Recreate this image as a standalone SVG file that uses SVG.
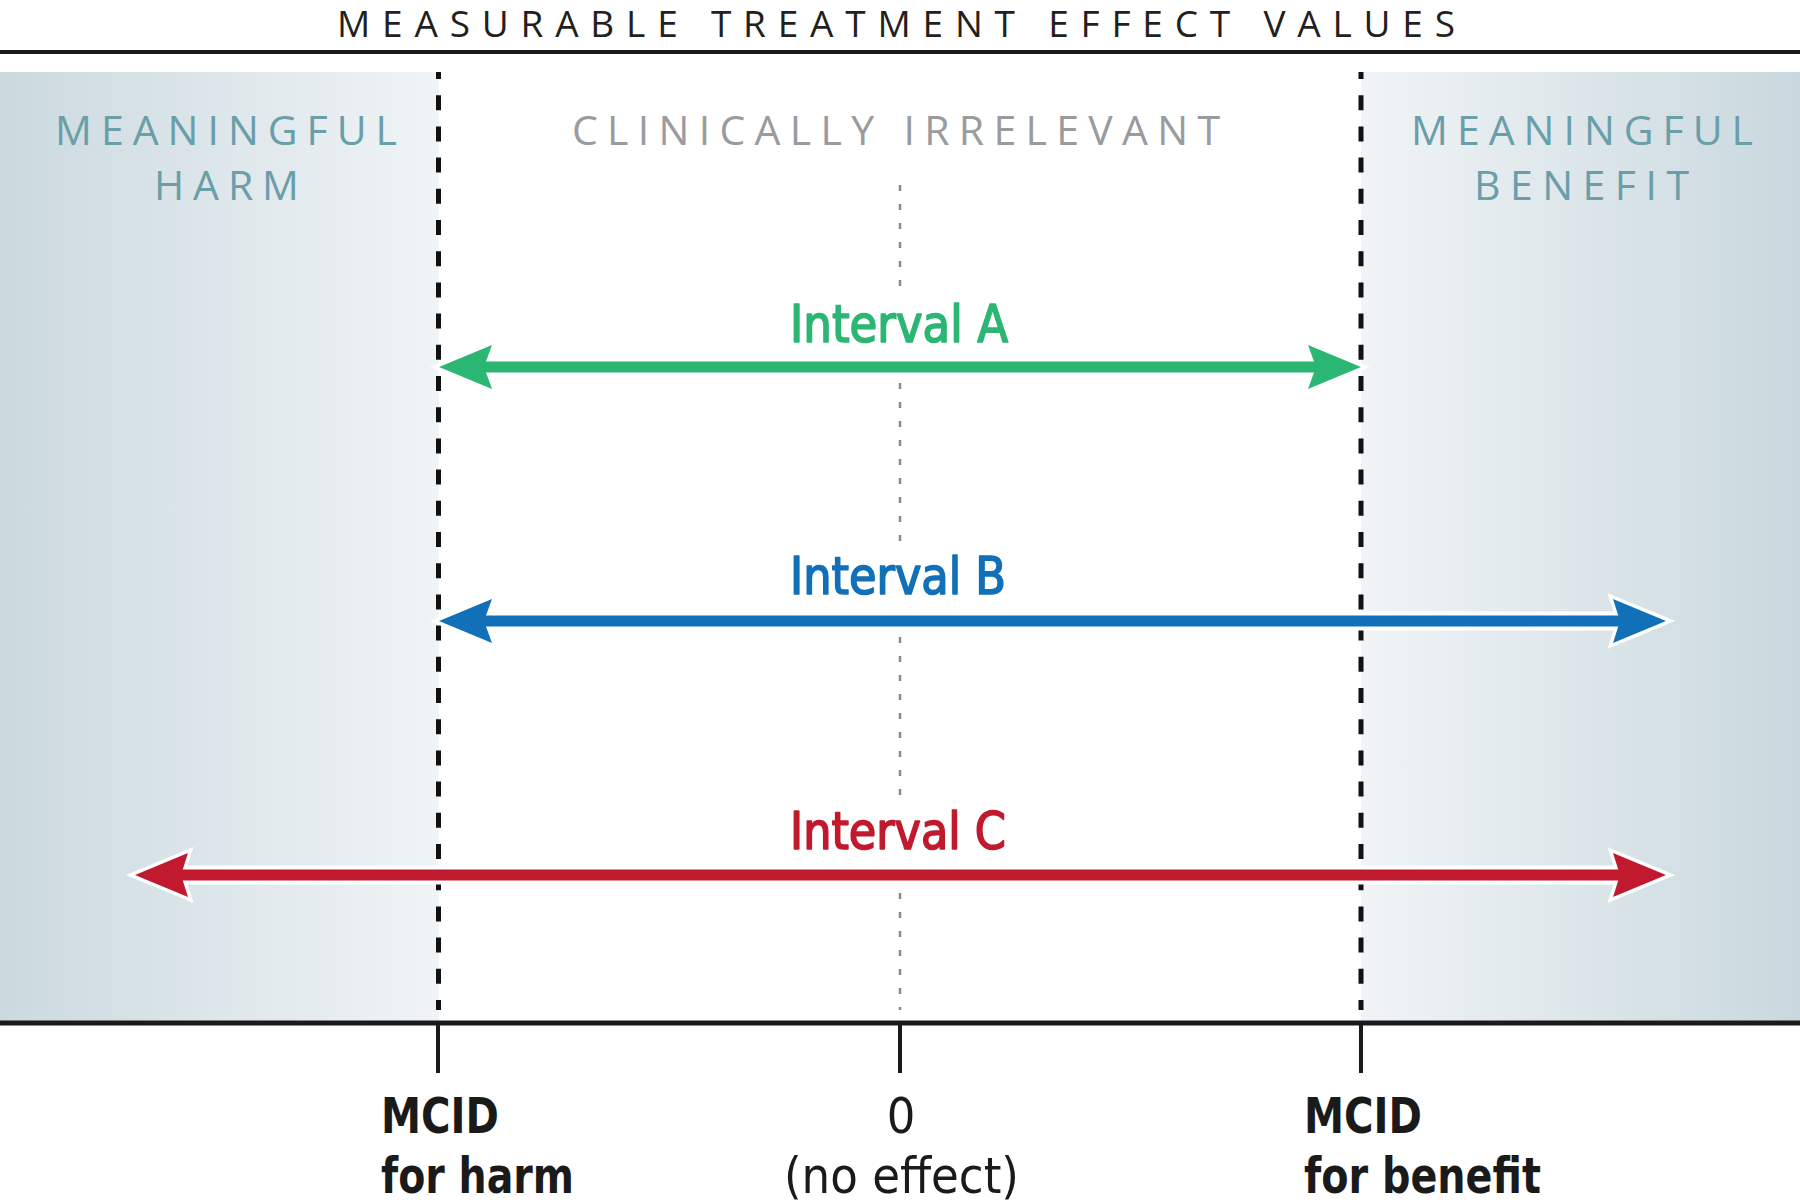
<svg xmlns="http://www.w3.org/2000/svg" width="1800" height="1202" viewBox="0 0 1800 1202">
  <defs>
    <linearGradient id="gHarm" x1="0" y1="0" x2="1" y2="0">
      <stop offset="0" stop-color="#cbd9df"/>
      <stop offset="1" stop-color="#f0f4f6"/>
    </linearGradient>
    <linearGradient id="gBen" x1="0" y1="0" x2="1" y2="0">
      <stop offset="0" stop-color="#f0f4f6"/>
      <stop offset="1" stop-color="#c9d8de"/>
    </linearGradient>
    <style>
      .title { font-family: "Open Sans", "Noto Sans", "Liberation Sans", sans-serif; font-size: 37px; fill: #231f20; }
      .zone { font-family: "Open Sans", "Noto Sans", "Liberation Sans", sans-serif; font-size: 41px; }
      .teal { fill: #6a9ea8; }
      .grey { fill: #9a9b9d; }
      .lab { font-family: "Liberation Sans Narrow", "DejaVu Sans Condensed", "Open Sans", "Liberation Sans", sans-serif; font-size: 51px; font-weight: 400; stroke-width: 1.6; stroke-linejoin: round; }
      .ax { font-family: "Liberation Sans Narrow", "DejaVu Sans Condensed", "Open Sans", "Liberation Sans", sans-serif; font-size: 50px; fill: #1a1a1a; }
      .b { font-weight: 600; }
      .mcid { stroke: #111; stroke-width: 5; stroke-dasharray: 15 16.2; stroke-dashoffset: 8; fill: none; }
      .zero { stroke: #8a8a8a; stroke-width: 2.5; stroke-dasharray: 6 13; fill: none; }
      .haloLine { stroke: #ffffff; stroke-width: 19; }
      .haloHead { stroke: #ffffff; stroke-width: 7; stroke-linejoin: miter; fill: #ffffff; }
      .tick { stroke: #1a1a1a; stroke-width: 4; }
      .green { stroke: #2cb673; fill: #2cb673; }
      .blue { stroke: #1170b8; fill: #1170b8; }
      .red { stroke: #c1192d; fill: #c1192d; }
      .shaft { stroke-width: 11; }
      .head { stroke: none; }
    </style>
  </defs>

  <rect width="1800" height="1202" fill="#ffffff"/>

  <g id="title">
    <text class="title" x="337" y="37" textLength="1118" lengthAdjust="spacing">MEASURABLE TREATMENT EFFECT VALUES</text>
    <rect x="0" y="50" width="1800" height="4" fill="#1a1a1a"/>
  </g>

  <g id="zone-harm">
    <rect x="0" y="72" width="439" height="951" fill="url(#gHarm)"/>
    <text class="zone teal" x="55" y="145" textLength="342" lengthAdjust="spacing">MEANINGFUL</text>
    <text class="zone teal" x="154" y="200" textLength="145" lengthAdjust="spacing">HARM</text>
  </g>

  <g id="zone-irrelevant">
    <text class="zone grey" x="572" y="145" textLength="648" lengthAdjust="spacing">CLINICALLY IRRELEVANT</text>
  </g>

  <g id="zone-benefit">
    <rect x="1361" y="72" width="439" height="951" fill="url(#gBen)"/>
    <text class="zone teal" x="1411" y="145" textLength="342" lengthAdjust="spacing">MEANINGFUL</text>
    <text class="zone teal" x="1474" y="200" textLength="215" lengthAdjust="spacing">BENEFIT</text>
  </g>

  <g id="reference-lines">
    <line class="mcid" x1="438.5" y1="72" x2="438.5" y2="1010"/>
    <line class="mcid" x1="1361" y1="72" x2="1361" y2="1010"/>
    <line class="zero" x1="900" y1="185" x2="900" y2="291"/>
    <line class="zero" x1="900" y1="383" x2="900" y2="546"/>
    <line class="zero" x1="900" y1="637" x2="900" y2="799"/>
    <line class="zero" x1="900" y1="893" x2="900" y2="1010"/>
  </g>

  <g id="axis">
    <rect x="0" y="1020.5" width="1800" height="5" fill="#1a1a1a"/>
    <line class="tick" x1="438" y1="1023" x2="438" y2="1073"/>
    <line class="tick" x1="900" y1="1023" x2="900" y2="1073"/>
    <line class="tick" x1="1361" y1="1023" x2="1361" y2="1073"/>
  </g>

  <g id="connectors">
    <g id="arrow-a">
      <line class="haloLine" x1="470" y1="367" x2="1330" y2="367"/>
      <polygon class="haloHead" points="439,367 492,345 484,367 492,389"/>
      <polygon class="haloHead" points="1361,367 1308,345 1316,367 1308,389"/>
      <line class="green shaft" x1="470" y1="367" x2="1330" y2="367"/>
      <polygon class="green head" points="439,367 492,345 484,367 492,389"/>
      <polygon class="green head" points="1361,367 1308,345 1316,367 1308,389"/>
    </g>
    <g id="arrow-b">
      <line class="haloLine" x1="470" y1="621" x2="1635" y2="621"/>
      <polygon class="haloHead" points="439,621 492,599 484,621 492,643"/>
      <polygon class="haloHead" points="1666,621 1613,599 1620,621 1613,643"/>
      <line class="blue shaft" x1="470" y1="621" x2="1635" y2="621"/>
      <polygon class="blue head" points="439,621 492,599 484,621 492,643"/>
      <polygon class="blue head" points="1666,621 1613,599 1620,621 1613,643"/>
    </g>
    <g id="arrow-c">
      <line class="haloLine" x1="166" y1="875" x2="1635" y2="875"/>
      <polygon class="haloHead" points="135,875 188,853 181,875 188,897"/>
      <polygon class="haloHead" points="1666,875 1613,853 1620,875 1613,897"/>
      <line class="red shaft" x1="166" y1="875" x2="1635" y2="875"/>
      <polygon class="red head" points="135,875 188,853 181,875 188,897"/>
      <polygon class="red head" points="1666,875 1613,853 1620,875 1613,897"/>
    </g>
  </g>

  <g id="interval-a">
    <text class="lab" x="790" y="342" textLength="218" lengthAdjust="spacingAndGlyphs" fill="#2cb673" stroke="#2cb673">Interval A</text>
  </g>
  <g id="interval-b">
    <text class="lab" x="790" y="594" textLength="216" lengthAdjust="spacingAndGlyphs" fill="#1170b8" stroke="#1170b8">Interval B</text>
  </g>
  <g id="interval-c">
    <text class="lab" x="790" y="849" textLength="216" lengthAdjust="spacingAndGlyphs" fill="#c1192d" stroke="#c1192d">Interval C</text>
  </g>

  <g id="label-mcid-harm">
    <text class="ax b" x="381" y="1133" textLength="118" lengthAdjust="spacingAndGlyphs">MCID</text>
    <text class="ax b" x="381" y="1193" textLength="193" lengthAdjust="spacingAndGlyphs">for harm</text>
  </g>
  <g id="label-zero">
    <text class="ax" x="901" y="1133" text-anchor="middle">0</text>
    <text class="ax" x="784" y="1193" textLength="235" lengthAdjust="spacingAndGlyphs">(no effect)</text>
  </g>
  <g id="label-mcid-benefit">
    <text class="ax b" x="1304" y="1133" textLength="118" lengthAdjust="spacingAndGlyphs">MCID</text>
    <text class="ax b" x="1304" y="1193" textLength="237" lengthAdjust="spacingAndGlyphs">for benefit</text>
  </g>
</svg>
